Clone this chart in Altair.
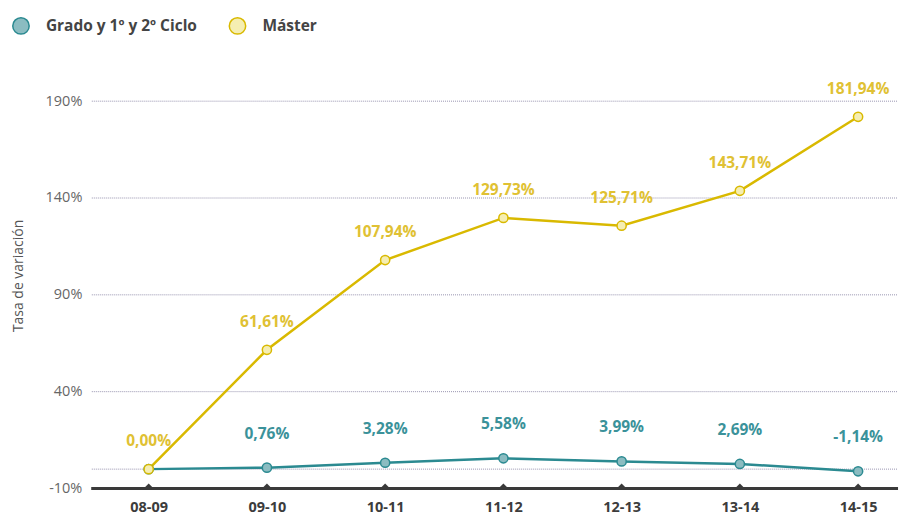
import altair as alt
import pandas as pd

years = ["08-09", "09-10", "10-11", "11-12", "12-13", "13-14", "14-15"]
grado = [0.00, 0.76, 3.28, 5.58, 3.99, 2.69, -1.14]
master = [0.00, 61.61, 107.94, 129.73, 125.71, 143.71, 181.94]
series_names = ["Grado y 1º y 2º Ciclo", "Máster"]
y_ticks = [-10, 40, 90, 140, 190]
grid_values = [0, 40, 90, 140, 190]

line_colors = ["#2b8a91", "#d9b900"]
fill_colors = ["#8bbcc1", "#f5eeb2"]
label_colors = ["#3b929a", "#e0c133"]


def fmt(v):
    return f"{v:.2f}".replace(".", ",") + "%"


rows = []
for i, y in enumerate(years):
    rows.append({"year": y, "series": series_names[0], "value": grado[i],
                 "label": fmt(grado[i]) if i > 0 else ""})
    rows.append({"year": y, "series": series_names[1], "value": master[i],
                 "label": fmt(master[i])})
df = pd.DataFrame(rows)
ticks_df = pd.DataFrame({"year": years})
grid_df = pd.DataFrame({"g": grid_values})

W, H = 808, 427
FONT = "Open Sans"

x_scale = alt.Scale(type="point", range=[57, 768], padding=0)
x_enc = alt.X("year:O", sort=years, scale=x_scale,
              axis=alt.Axis(title=None, labelAngle=0, ticks=False, grid=False,
                            domain=False,
                            labelFont=FONT, labelFontSize=14.5, labelFontWeight="bold",
                            labelColor="#3c3c3c", labelPadding=12))
y_scale = alt.Scale(domain=[-10, 210], nice=False, zero=False)
y_enc = alt.Y("value:Q", scale=y_scale,
              axis=alt.Axis(title="Tasa de variación", values=y_ticks,
                            labelExpr="datum.value + '%'",
                            domain=False, ticks=False, tickSize=0, grid=False,
                            labelFont=FONT, labelFontSize=14.5, labelColor="#666666",
                            labelPadding=10, titleFont=FONT, titleFontSize=14,
                            titleFontWeight="normal", titleColor="#555555",
                            titlePadding=20))

stroke_scale = alt.Scale(domain=series_names, range=line_colors)
fill_scale = alt.Scale(domain=series_names, range=fill_colors)

legend_opts = dict(title=None, orient="none", legendX=-80, legendY=-46,
                   direction="horizontal", symbolType="circle",
                   symbolSize=270, symbolStrokeWidth=1.5,
                   labelFont=FONT, labelFontSize=15.5,
                   labelFontWeight="bold", labelColor="#444444",
                   labelOffset=16, columnPadding=28)

base = alt.Chart(df)

grid = alt.Chart(grid_df).mark_rule(color="#9894b0", strokeDash=[1, 1], strokeWidth=1).encode(
    y=alt.Y("g:Q", scale=y_scale),
    x=alt.value(0), x2=alt.value(W),
)

baseline = alt.Chart(ticks_df).mark_rule(color="#3a3a3a", strokeWidth=3).encode(
    y=alt.value(H), x=alt.value(0), x2=alt.value(W),
)

lines = base.mark_line(strokeWidth=2.5).encode(
    x=x_enc, y=y_enc,
    stroke=alt.Stroke("series:N", scale=stroke_scale, legend=alt.Legend(**legend_opts)),
    detail="series:N",
)

points = base.mark_point(filled=True, size=85, strokeWidth=1.5, opacity=1).encode(
    x=alt.X("year:O", sort=years),
    y=alt.Y("value:Q"),
    fill=alt.Fill("series:N", scale=fill_scale, legend=alt.Legend(**legend_opts)),
    stroke=alt.Stroke("series:N", scale=stroke_scale, legend=alt.Legend(**legend_opts)),
)

labels_g = base.transform_filter(alt.datum.series == series_names[0]).mark_text(
    font=FONT, fontSize=15.5, fontWeight="bold", baseline="bottom", dy=-26,
    color=label_colors[0]).encode(
    x=alt.X("year:O", sort=years), y=alt.Y("value:Q"), text="label:N")

labels_m = base.transform_filter(alt.datum.series == series_names[1]).mark_text(
    font=FONT, fontSize=15.5, fontWeight="bold", baseline="bottom", dy=-20,
    color=label_colors[1]).encode(
    x=alt.X("year:O", sort=years), y=alt.Y("value:Q"), text="label:N")

tri = alt.Chart(ticks_df).mark_point(shape="M-1,0L0,-1L1,0Z", filled=True, size=64,
                                     color="#3a3a3a", opacity=1).encode(
    x=alt.X("year:O", sort=years),
    y=alt.value(H - 1),
)

chart = alt.layer(grid, baseline, lines, tri, points, labels_g, labels_m).properties(
    width=W, height=H, background="white",
    padding={"left": 3, "top": 8, "right": 0, "bottom": 0},
).configure_view(stroke=None)

chart.save("out.html", embed_options={"renderer": "svg", "actions": False})
